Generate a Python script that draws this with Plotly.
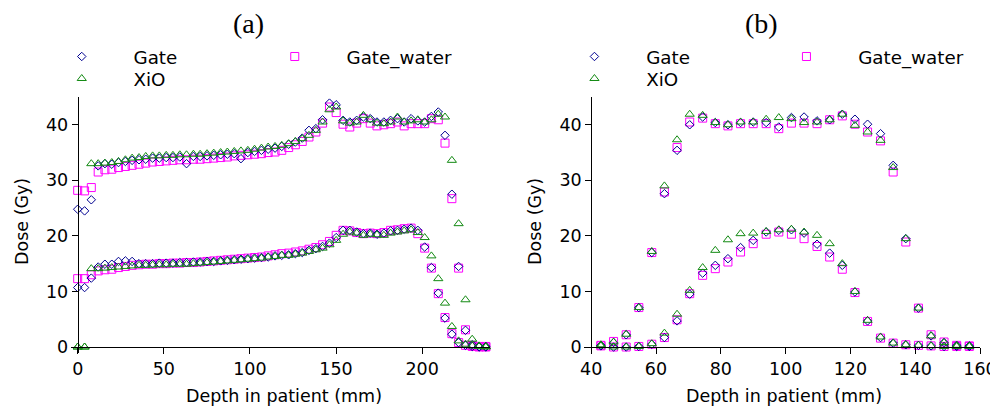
import plotly.graph_objects as go

W, H = 998, 409
OFF = 8  # page body margin of the browser

# ---------------- Panel (a): depth dose ----------------
depth_a = [0.0, 4.0, 7.9, 11.9, 15.8, 19.8, 23.7, 27.7, 31.6, 35.6, 39.5, 43.5, 47.4, 51.4, 55.3,
           59.3, 63.2, 67.2, 71.1, 75.1, 79.0, 83.0, 86.9, 90.9, 94.8, 98.8, 102.7, 106.7, 110.6,
           114.6, 118.5, 122.5, 126.4, 130.4, 134.3, 138.3, 142.2, 146.2, 150.1, 154.1, 158.0,
           162.0, 165.9, 169.9, 173.8, 177.8, 181.7, 185.7, 189.6, 193.6, 197.5, 201.5, 205.4,
           209.4, 213.3, 217.3, 221.2, 225.2, 229.1, 233.1, 237.0]

gate_a_high = [24.8, 24.5, 26.5, 32.6, 33.0, 32.9, 33.2, 33.4, 33.6, 33.7, 33.8, 34.0, 34.0, 34.1,
               34.1, 34.2, 33.0, 34.3, 34.3, 34.4, 34.5, 34.6, 34.7, 34.8, 33.9, 35.0, 35.2, 35.4,
               35.6, 35.8, 36.1, 36.5, 36.9, 37.6, 39.0, 39.3, 40.9, 43.9, 43.6, 40.8, 40.5, 40.8,
               41.4, 41.1, 40.5, 40.5, 40.8, 41.1, 40.5, 41.1, 40.7, 40.5, 41.5, 42.3, 38.1, 27.5,
               14.5, 3.0, 0.4, 0.1, 0.1]
xio_a_high = [0.0, 0.0, 33.0, 33.0, 33.1, 33.2, 33.4, 33.7, 34.0, 34.1, 34.3, 34.4, 34.4, 34.5,
              34.5, 34.6, 34.6, 34.7, 34.7, 34.8, 34.9, 35.0, 35.1, 35.2, 35.3, 35.4, 35.6, 35.8,
              36.0, 36.1, 36.3, 36.6, 37.0, 37.5, 38.1, 39.0, 40.5, 42.7, 43.2, 40.7, 40.3, 40.5,
              41.7, 40.9, 40.3, 40.2, 40.5, 41.4, 40.5, 40.7, 40.9, 40.5, 40.9, 41.9, 41.4, 33.6,
              22.2, 8.5, 1.4, 0.2, 0.1]
water_a_high = [28.2, 28.1, 28.7, 31.5, 31.9, 32.0, 32.3, 32.5, 32.7, 32.9, 33.1, 33.3, 33.4, 33.5,
                33.6, 33.7, 33.7, 33.8, 33.8, 33.9, 34.0, 34.1, 34.2, 34.4, 34.5, 34.6, 34.7, 34.8,
                35.0, 35.1, 35.4, 35.9, 36.4, 37.0, 37.8, 38.7, 40.3, 43.2, 42.2, 40.1, 39.6, 40.3,
                41.1, 40.3, 39.8, 40.0, 40.2, 40.5, 39.8, 40.2, 40.2, 40.2, 41.1, 40.9, 36.7, 26.7,
                14.2, 3.1, 0.3, 0.1, 0.1]

gate_a_low = [10.7, 10.7, 12.4, 14.4, 14.9, 14.9, 15.4, 15.5, 15.4, 15.0, 15.0, 15.0, 15.1, 15.1,
              15.1, 15.2, 15.2, 15.3, 15.3, 15.4, 15.4, 15.5, 15.6, 15.7, 15.8, 15.9, 16.0, 16.1,
              16.2, 16.4, 16.5, 16.6, 16.8, 17.0, 17.4, 17.7, 18.1, 18.7, 19.7, 21.0, 21.0, 20.7,
              20.4, 20.5, 20.3, 20.5, 20.9, 21.0, 21.2, 21.4, 21.0, 18.0, 14.3, 9.7, 5.2, 2.3,
              0.8, 0.3, 0.1, 0.0, 0.0]
xio_a_low = [0.0, 0.0, 14.1, 14.1, 14.2, 14.3, 14.4, 14.5, 14.6, 14.7, 14.7, 14.75, 14.8, 14.8,
             14.9, 14.9, 14.9, 15.0, 15.1, 15.2, 15.3, 15.4, 15.5, 15.6, 15.7, 15.8, 15.9, 16.0,
             16.2, 16.3, 16.5, 16.5, 16.7, 16.9, 17.2, 17.5, 17.8, 18.4, 19.2, 20.3, 20.7, 20.5,
             20.1, 20.3, 20.2, 20.1, 20.5, 20.7, 20.9, 21.1, 20.6, 19.7, 16.4, 12.3, 7.9, 3.7,
             1.1, 0.5, 0.2, 0.1, 0.0]
water_a_low = [12.3, 12.3, 13.0, 13.7, 13.9, 14.0, 14.3, 14.5, 14.7, 14.8, 14.9, 14.9, 15.0, 15.0,
               15.1, 15.1, 15.2, 15.2, 15.3, 15.4, 15.5, 15.6, 15.7, 15.8, 15.9, 16.0, 16.1, 16.2,
               16.4, 16.6, 16.8, 16.9, 17.1, 17.3, 17.6, 17.9, 18.4, 19.0, 20.1, 21.0, 20.9, 20.6,
               20.4, 20.5, 20.4, 20.6, 21.0, 21.1, 21.3, 21.4, 20.4, 17.8, 14.2, 9.6, 5.3, 2.4,
               0.8, 0.3, 0.1, 0.0, 0.0]

# ---------------- Panel (b): lateral profiles ----------------
depth_b = [43.0, 46.9, 50.8, 54.7, 58.7, 62.6, 66.5, 70.4, 74.4, 78.3, 82.2, 86.1, 90.0, 94.0,
           97.9, 101.8, 105.7, 109.7, 113.6, 117.5, 121.4, 125.3, 129.3, 133.2, 137.1, 141.0,
           144.9, 148.9, 152.8, 156.7]

gate_b_high = [0.3, 0.8, 2.2, 7.1, 17.0, 27.6, 35.4, 40.0, 41.4, 40.4, 40.0, 40.4, 40.5, 40.4,
               39.6, 41.3, 41.4, 40.7, 40.9, 41.9, 41.0, 40.1, 38.4, 32.7, 19.5, 7.0, 2.0, 0.8,
               0.3, 0.2]
xio_b_high = [0.4, 0.9, 2.3, 7.1, 17.2, 29.0, 37.3, 41.9, 41.7, 40.4, 40.0, 40.5, 40.5, 41.0,
              41.3, 41.1, 40.4, 40.5, 40.9, 41.9, 39.9, 38.7, 37.2, 32.3, 19.5, 7.0, 2.0, 0.8,
              0.3, 0.2]
water_b_high = [0.3, 1.0, 2.2, 7.1, 17.0, 27.9, 35.9, 40.5, 41.2, 40.2, 39.8, 40.2, 40.2, 40.2,
                39.3, 40.3, 40.3, 40.2, 40.9, 41.6, 40.1, 38.7, 37.1, 31.5, 18.9, 7.0, 2.2, 0.9,
                0.3, 0.2]

gate_b_low = [0.2, 0.0, 0.0, 0.1, 0.5, 1.7, 4.7, 9.5, 13.3, 14.7, 15.9, 17.9, 19.2, 20.7, 21.0,
              21.1, 20.5, 18.5, 16.9, 14.7, 9.9, 4.7, 1.7, 0.7, 0.4, 0.3, 0.2, 0.1, 0.1, 0.1]
xio_b_low = [0.2, 0.0, 0.0, 0.1, 0.6, 2.5, 5.9, 10.2, 14.3, 17.4, 19.3, 20.4, 20.5, 20.8, 21.1,
             21.2, 20.7, 20.1, 18.6, 15.0, 10.0, 4.8, 1.8, 0.7, 0.4, 0.3, 0.2, 0.1, 0.1, 0.1]
water_b_low = [0.2, 0.0, 0.0, 0.1, 0.5, 1.7, 4.9, 9.6, 12.9, 14.1, 15.3, 17.1, 18.6, 20.3, 20.7,
               20.3, 19.5, 18.1, 16.2, 14.0, 9.8, 4.6, 1.6, 0.7, 0.4, 0.3, 0.2, 0.1, 0.1, 0.1]

ticks_a = [0, 50, 100, 150, 200]
ticks_b = [40, 60, 80, 100, 120, 140, 160]
ticks_y = [0, 10, 20, 30, 40]

# ---------------- styling ----------------
FONT = "DejaVu Sans"
FS = 17.5
FS_LEG = 18.3
C_GATE = "#000090"
C_XIO = "#138a13"
C_WATER = "#ff00ff"

FW, FH = W - OFF, H - OFF


def px_x(p):
    return (p - OFF) / FW


def px_y(p):
    return 1 - (p - OFF) / FH


styles = {
    "Gate": dict(symbol="diamond-open", size=6.5, color=C_GATE),
    "XiO": dict(symbol="triangle-up-open", size=8, color=C_XIO),
    "Gate_water": dict(symbol="square-open", size=8, color=C_WATER),
}

panel_a = {
    "Gate": (gate_a_high, gate_a_low),
    "XiO": (xio_a_high, xio_a_low),
    "Gate_water": (water_a_high, water_a_low),
}
panel_b = {
    "Gate": (gate_b_high, gate_b_low),
    "XiO": (xio_b_high, xio_b_low),
    "Gate_water": (water_b_high, water_b_low),
}

# legend text positions (left of text, centre y), reference pixels
ITEMW = 93.5
legend_pos = {
    ("a", "Gate"): (133, 56.5),
    ("a", "XiO"): (133, 78.5),
    ("a", "Gate_water"): (346, 56.5),
    ("b", "Gate"): (645.7, 56.5),
    ("b", "XiO"): (645.7, 78.5),
    ("b", "Gate_water"): (857.7, 56.5),
}

fig = go.Figure()
draw_order = ["Gate_water", "Gate", "XiO"]
legend_layout = {}
n = 0
for panel, data, xs, xa, ya in [("a", panel_a, depth_a, "x", "y"), ("b", panel_b, depth_b, "x2", "y2")]:
    for name in draw_order:
        n += 1
        lname = "legend" if n == 1 else f"legend{n}"
        st = styles[name]
        hi, lo = data[name]
        fig.add_trace(go.Scatter(
            x=xs + xs, y=hi + lo, mode="markers", name=name,
            marker=dict(symbol=st["symbol"], size=st["size"], color=st["color"],
                        line=dict(width=1, color=st["color"])),
            xaxis=xa, yaxis=ya, cliponaxis=False, legend=lname,
        ))
        tx, ty = legend_pos[(panel, name)]
        legend_layout[lname] = dict(
            x=px_x(tx - (ITEMW + 10) + 0.5), y=px_y(ty - 18.4),
            xanchor="left", yanchor="top", orientation="v",
            font=dict(family=FONT, size=FS_LEG, color="black"),
            bgcolor="rgba(0,0,0,0)", itemwidth=ITEMW,
            itemclick=False, itemdoubleclick=False,
        )

# pixel geometry (reference pixels)
A_X0, A_X1 = 71, 490
B_X0, B_X1 = 584, 980
Y_TOP, Y_BOT = 97, 353
Y_ZERO = 347
PX_PER_GY = (Y_ZERO - Y_TOP) / 45.0
A_ZERO, A_SCALE = 77.7, 1.722
B_40, B_SCALE = 591.2, 3.24

ya_lo = -(Y_BOT - Y_ZERO) / PX_PER_GY
xa_range = [(A_X0 - A_ZERO) / A_SCALE, (A_X1 - A_ZERO) / A_SCALE]
xb_range = [40 + (B_X0 - B_40) / B_SCALE, 40 + (B_X1 - B_40) / B_SCALE]

axis_common = dict(showgrid=False, zeroline=False, showline=True, linecolor="black",
                   linewidth=1, ticks="outside", ticklen=6, tickcolor="black",
                   tickfont=dict(family=FONT, size=FS, color="black"),
                   anchor="free")

fig.update_layout(
    width=FW, height=FH,
    margin=dict(l=0, r=0, t=0, b=0, autoexpand=False),
    paper_bgcolor="white", plot_bgcolor="white",
    xaxis=dict(domain=[px_x(A_X0), px_x(A_X1)], range=xa_range,
               tickvals=ticks_a, position=px_y(Y_ZERO), **axis_common),
    yaxis=dict(domain=[px_y(Y_BOT), px_y(Y_TOP)], range=[ya_lo, 45],
               tickvals=ticks_y, position=px_x(A_ZERO), **axis_common),
    xaxis2=dict(domain=[px_x(B_X0), px_x(B_X1)], range=xb_range,
                tickvals=ticks_b, position=px_y(Y_ZERO), **axis_common),
    yaxis2=dict(domain=[px_y(Y_BOT), px_y(Y_TOP)], range=[ya_lo, 45],
                tickvals=ticks_y, position=px_x(B_40), **axis_common),
    showlegend=True,
    **legend_layout,
)

annots = [
    dict(text="(a)", x=px_x(248), y=px_y(23), font=dict(family="Liberation Serif", size=28)),
    dict(text="(b)", x=px_x(761), y=px_y(23), font=dict(family="Liberation Serif", size=28)),
    dict(text="Depth in patient (mm)", x=px_x(283.5), y=px_y(396), font=dict(family=FONT, size=FS)),
    dict(text="Depth in patient (mm)", x=px_x(784), y=px_y(396), font=dict(family=FONT, size=FS)),
    dict(text="Dose (Gy)", x=px_x(22), y=px_y(222), textangle=-90, font=dict(family=FONT, size=FS)),
    dict(text="Dose (Gy)", x=px_x(535), y=px_y(222), textangle=-90, font=dict(family=FONT, size=FS)),
]
for a in annots:
    a.update(xref="paper", yref="paper", showarrow=False, xanchor="center", yanchor="middle")
    a["font"]["color"] = "black"
    fig.add_annotation(**a)

fig.write_html("out.html")
